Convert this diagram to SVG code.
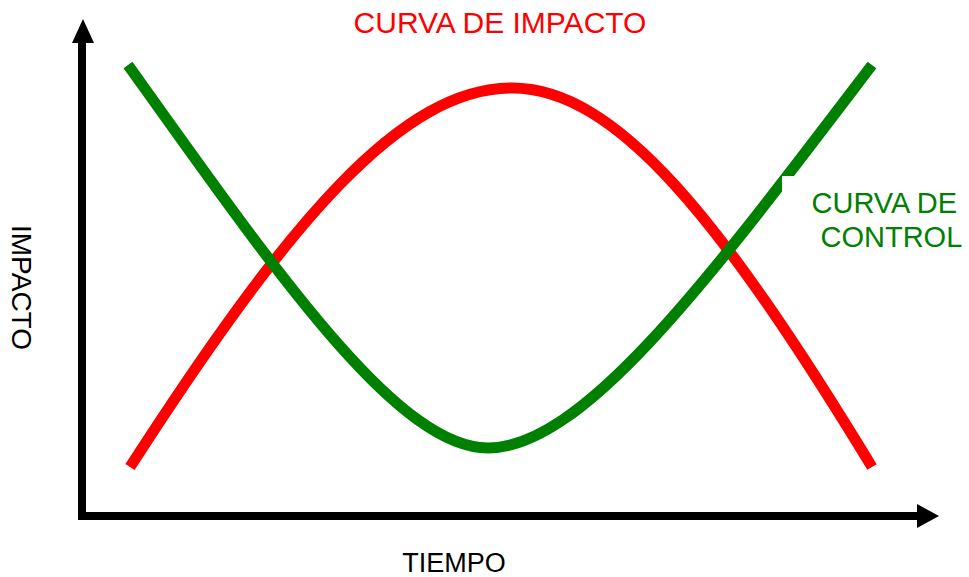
<svg xmlns="http://www.w3.org/2000/svg" width="969" height="577" viewBox="0 0 969 577">
<style>
.lbl{font-family:"Liberation Sans",Arial,sans-serif;}
.curve{fill:none;stroke-width:11;stroke-linecap:butt;}
</style>
<rect width="969" height="577" fill="#ffffff"/>
<g id="axes">
<line x1="82" y1="40" x2="82" y2="520" stroke="#000" stroke-width="8"/>
<polygon points="83,19 72,43 94,43" fill="#000"/>
<line x1="78" y1="516" x2="918" y2="516" stroke="#000" stroke-width="8"/>
<polygon points="939,516 917,504 917,528" fill="#000"/>
</g>
<g id="connectors">
<path id="curva-impacto" class="curve" stroke="#ff0000" d="M130,467 C290,219 402,88 512,88 C616,88 721,219 872,467"/>
<path id="curva-control" class="curve" stroke="#008000" d="M128,65 C278,275 398,448 488,448 C584,448 712,275 872,65"/>
</g>
<g id="label-control">
<rect x="782" y="176" width="187" height="80" fill="#ffffff"/>
<text class="lbl" x="811.5" y="213" font-size="29" fill="#008000">CURVA DE</text>
<text class="lbl" x="820.5" y="247" font-size="29" fill="#008000">CONTROL</text>
</g>
<g id="title">
<text class="lbl" x="500" y="33" font-size="30" fill="#ff0000" text-anchor="middle">CURVA DE IMPACTO</text>
</g>
<g id="x-label">
<text class="lbl" x="454" y="572" font-size="27" fill="#000" text-anchor="middle">TIEMPO</text>
</g>
<g id="y-label">
<text class="lbl" transform="translate(12,287.5) rotate(90)" font-size="28" fill="#000" text-anchor="middle">IMPACTO</text>
</g>
</svg>
